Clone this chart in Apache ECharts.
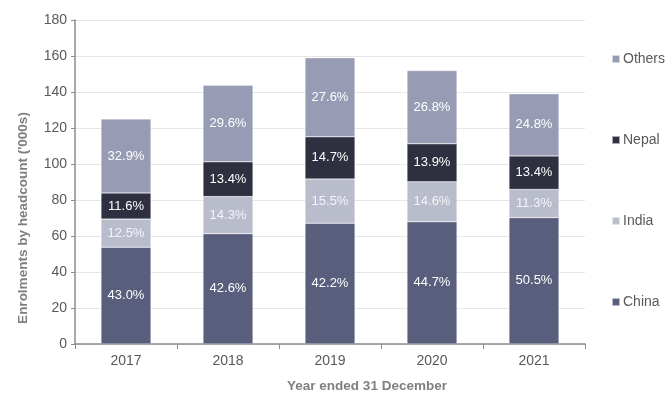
<html>
<head>
    <meta charset="utf-8" />
    <title>Enrolments</title>
    <script src="https://cdn.jsdelivr.net/npm/echarts@6/dist/echarts.min.js"></script>
    <style>
        html, body { margin: 0; padding: 0; background: #fff; }
        #chart { width: 670px; height: 398px; }
    </style>
</head>
<body>
<div id="chart"></div>
<script>
    // values in '000s
    const years = ['2017', '2018', '2019', '2020', '2021'];
    const china = [53.8, 61.3, 67.1, 67.9, 70.2];
    const india = [15.6, 20.6, 24.6, 22.2, 15.7];
    const nepal = [14.5, 19.3, 23.4, 21.1, 18.6];
    const others = [41.1, 42.6, 43.9, 40.7, 34.5];
    // share labels shown in each segment
    const chinaPct = ['43.0%', '42.6%', '42.2%', '44.7%', '50.5%'];
    const indiaPct = ['12.5%', '14.3%', '15.5%', '14.6%', '11.3%'];
    const nepalPct = ['11.6%', '13.4%', '14.7%', '13.9%', '13.4%'];
    const othersPct = ['32.9%', '29.6%', '27.6%', '26.8%', '24.8%'];

    const font = 'Liberation Sans, Arial, sans-serif';

    function seg(name, data, pct, color, labelColor) {
        return {
            name: name,
            type: 'bar',
            stack: 'total',
            barWidth: '49%',
            data: data,
            itemStyle: { color: color, borderColor: 'rgba(255,255,255,0.6)', borderWidth: 0.5 },
            label: {
                show: true,
                color: labelColor,
                fontFamily: font,
                fontSize: 13,
                formatter: p => pct[p.dataIndex]
            }
        };
    }

    let chart = echarts.init(document.getElementById('chart'));
    chart.setOption({
        animation: false,
        textStyle: { fontFamily: font },
        grid: { left: 75, right: 85, top: 20, bottom: 54 },
        legend: {
            orient: 'vertical',
            left: 606,
            top: 47,
            itemGap: 67,
            itemWidth: 8,
            itemHeight: 8,
            icon: 'rect',
            textStyle: { color: '#595959', fontSize: 14, fontFamily: font, padding: [0, 0, 0, -2] },
            data: ['Others', 'Nepal', 'India', 'China']
        },
        xAxis: {
            type: 'category',
            data: years,
            axisLine: { lineStyle: { color: '#8c8c8c', width: 1.5 } },
            axisTick: { show: true, length: 5, lineStyle: { color: '#8c8c8c' } },
            axisLabel: { color: '#595959', fontSize: 14, margin: 10 }
        },
        yAxis: {
            type: 'value',
            min: 0,
            max: 180,
            interval: 20,
            axisLine: { show: true, lineStyle: { color: '#8c8c8c', width: 1.5 } },
            axisTick: { show: true, length: 4, lineStyle: { color: '#8c8c8c' } },
            axisLabel: { color: '#595959', fontSize: 14, margin: 8 },
            splitLine: { lineStyle: { color: '#e6e6e6', width: 1.2 } }
        },
        graphic: [
            {
                type: 'text',
                x: 23,
                y: 218,
                rotation: Math.PI / 2,
                style: {
                    text: "Enrolments by headcount ('000s)",
                    fill: '#7f7f7f',
                    font: 'bold 13.5px ' + font,
                    align: 'center',
                    verticalAlign: 'middle'
                }
            },
            {
                type: 'text',
                x: 367,
                y: 386,
                style: {
                    text: 'Year ended 31 December',
                    fill: '#7f7f7f',
                    font: 'bold 13.5px ' + font,
                    align: 'center',
                    verticalAlign: 'middle'
                }
            }
        ],
        series: [
            seg('China', china, chinaPct, '#585e7b', '#ffffff'),
            seg('India', india, indiaPct, '#b9bccb', '#f4f4f8'),
            seg('Nepal', nepal, nepalPct, '#2e2f3f', '#ffffff'),
            seg('Others', others, othersPct, '#979cb4', '#ffffff')
        ]
    });
</script>
</body>
</html>
